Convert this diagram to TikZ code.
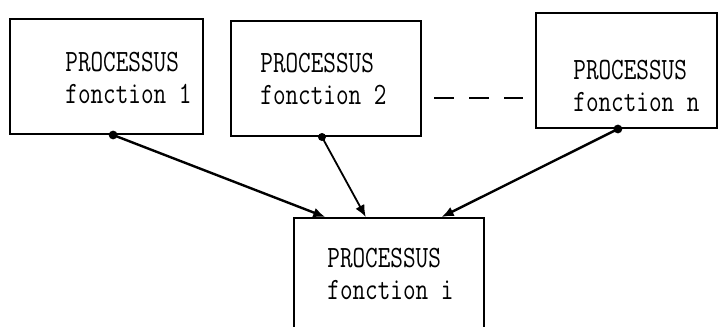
\documentclass[tikz,border=0pt]{standalone}
\usepackage{fontspec}
\usepackage{tikz}
\usetikzlibrary{
    arrows.meta,
    positioning,
    calc
}
\newfontfamily\procfont[FakeStretch=0.79]{Latin Modern Mono}

\begin{document}
\begin{tikzpicture}[
    x=0.5pt, y=-0.5pt,
    procbox/.style={
        draw=black,
        line width=1pt,
        anchor=north west,
        inner sep=0pt,
        minimum height=57.5pt
    },
    proctext/.style={
        font=\procfont\fontsize{15.5pt}{16pt}\selectfont,
        align=left,
        inner sep=0pt
    },
    flowarrow/.style={
        -{Latex[length=6pt,width=5pt]},
        line width=1.2pt,
        draw=black
    },
    dot/.style={
        fill=black
    }
]
\useasboundingbox (0,0) rectangle (719,327);
\clip (0,0) rectangle (719,327);

% top row of processes
\node[procbox, minimum width=96.5pt] (f1) at (9,18) {};
\node[procbox, minimum width=95pt] (f2) at (230,20) {};
\node[procbox, minimum width=90.5pt] (fn) at (535,12) {};

% target process (cut at the bottom)
\node[procbox, minimum width=95pt, minimum height=70pt] (fi) at (293,217) {};

\node[proctext, below right=17pt and 28pt of f1.north west, anchor=north west] (t1)
    {PROCESSUS\\fonction 1};
\node[proctext, below right=16.5pt and 15pt of f2.north west, anchor=north west] (t2)
    {PROCESSUS\\fonction 2};
\node[proctext, below right=24pt and 19pt of fn.north west, anchor=north west] (tn)
    {PROCESSUS\\fonction n};
\node[proctext, below right=15.5pt and 17pt of fi.north west, anchor=north west] (ti)
    {PROCESSUS\\fonction i};

% dashed link between 2 and n
\coordinate (d1) at ($(f2.east)+(0,19.5)$);
\draw[line width=1.2pt, dash pattern=on 10pt off 7.5pt,
      shorten <=6pt, shorten >=6pt] (d1) -- (d1 -| fn.west);

% start and end points of the arrows
\coordinate (s1) at ($(f1.south west)!0.534!(f1.south east)$);
\coordinate (s2) at ($(f2.south west)!0.479!(f2.south east)$);
\coordinate (sn) at ($(fn.south west)!0.453!(fn.south east)$);
\coordinate (e1) at ($(fi.north west)!0.168!(fi.north east)$);
\coordinate (e2) at ($(fi.north west)!0.379!(fi.north east)$);
\coordinate (e3) at ($(fi.north west)!0.774!(fi.north east)$);

\draw[flowarrow] (s1) -- (e1);
\draw[flowarrow, line width=0.9pt] (s2) -- (e2);
\draw[flowarrow] (sn) -- (e3);

\fill[dot] (s1) circle (2.2pt);
\fill[dot] (s2) circle (2pt);
\fill[dot] (sn) circle (2.2pt);

\end{tikzpicture}
\end{document}
